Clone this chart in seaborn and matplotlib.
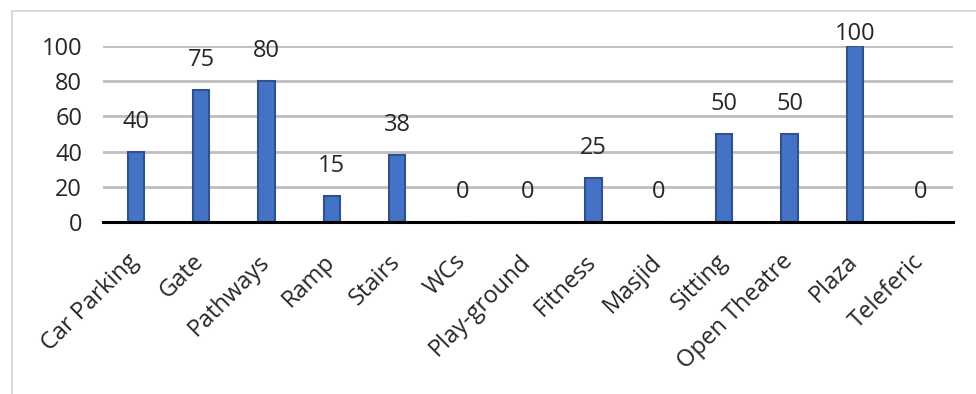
import pandas as pd
import matplotlib.pyplot as plt
import matplotlib.transforms as mtransforms
from matplotlib.patches import Rectangle
import seaborn as sns

# Data
categories = ["Car Parking", "Gate", "Pathways", "Ramp", "Stairs", "WCs", "Play-ground",
              "Fitness", "Masjid", "Sitting", "Open Theatre", "Plaza", "Teleferic"]
values = [40, 75, 80, 15, 38, 0, 0, 25, 0, 50, 50, 100, 0]
yticks = [0, 20, 40, 60, 80, 100]

data = pd.DataFrame({"Facility": categories, "Score": values})

sns.set_style("white")
plt.rcParams["font.family"] = ["Open Sans", "DejaVu Sans"]
text_color = "#262626"

fig = plt.figure(figsize=(9.76, 3.94), dpi=100)
ax = fig.add_axes([103 / 976, 1 - 222 / 394, 850 / 976, 176 / 394])

sns.barplot(data=data, x="Facility", y="Score", color="#4472C4", saturation=1,
            width=0.25, edgecolor="#2F528F", linewidth=1.5, ax=ax, zorder=3)

ax.set_ylim(0, 100)
ax.set_xlim(-0.5, len(categories) - 0.5)
ax.set_yticks(yticks)
ax.set_xlabel("")
ax.set_ylabel("")
ax.grid(axis="y", color="#BFBFBF", linewidth=2, zorder=0)
ax.set_axisbelow(True)
for side in ["top", "right", "left"]:
    ax.spines[side].set_visible(False)
ax.spines["bottom"].set_color("black")
ax.spines["bottom"].set_linewidth(2.2)
ax.spines["bottom"].set_zorder(4)

ax.tick_params(axis="y", length=0, pad=15, labelsize=17, labelcolor=text_color)
ax.tick_params(axis="x", length=0, pad=20, labelsize=17, labelcolor=text_color)
shift = mtransforms.ScaledTranslation(8 / 100, 0, fig.dpi_scale_trans)
for lbl in ax.get_xticklabels():
    lbl.set_rotation(45)
    lbl.set_ha("right")
    lbl.set_va("top")
    lbl.set_transform(lbl.get_transform() + shift)

# value labels above bars
for i, v in enumerate(values):
    ax.text(i, min(v + 17, 107), str(v), ha="center", va="center",
            fontsize=17, color=text_color, clip_on=False)

# light chart border
fig.patches.append(Rectangle((12 / 976, -0.02), 1.0, 1 - 11 / 394 + 0.02,
                             transform=fig.transFigure, fill=False,
                             edgecolor="#D9D9D9", linewidth=1.5))

plt.savefig("out.png", dpi=100)
